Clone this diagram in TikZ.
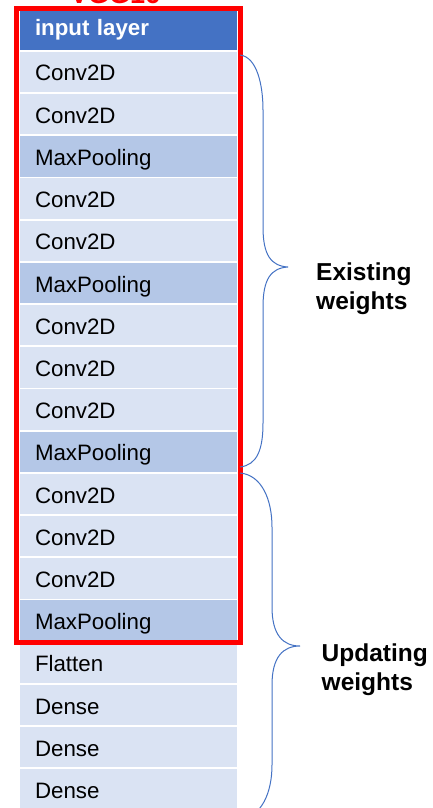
\documentclass[tikz,border=0pt]{standalone}
\usepackage{fontspec}
\setmainfont{Liberation Sans}
\definecolor{cellL}{HTML}{DAE3F3}
\definecolor{cellD}{HTML}{B4C7E7}
\definecolor{inBlue}{HTML}{4472C4}
\begin{document}
\begin{tikzpicture}[x=1pt,y=-1pt,
  cell/.style={rectangle, fill=cellL, draw=none, minimum width=217pt, minimum height=40.4pt,
    inner xsep=15pt, inner ysep=0pt, text width=187pt, align=left,
    font=\fontsize{22.3}{25}\selectfont, text height=18pt, text depth=0pt},
  pool/.style={cell, fill=cellD},
  inlayer/.style={cell, fill=inBlue, text=white, font=\fontsize{22.3}{25}\selectfont\bfseries, text height=12pt},
  brace/.style={draw=inBlue, line width=1pt},
  lab/.style={font=\fontsize{24.5}{29}\selectfont\bfseries, align=left, anchor=north west, inner sep=0pt}]
\clip (0,0) rectangle (433,808);
\fill[white] (0,0) rectangle (433,808);
\node[inlayer] (r0) at (128.5,29.8) {input layer};
\foreach \i/\t/\s in {1/Conv2D/cell,2/Conv2D/cell,3/MaxPooling/pool,4/Conv2D/cell,5/Conv2D/cell,
  6/MaxPooling/pool,7/Conv2D/cell,8/Conv2D/cell,9/Conv2D/cell,10/MaxPooling/pool,
  11/Conv2D/cell,12/Conv2D/cell,13/Conv2D/cell,14/MaxPooling/pool,15/Flatten/cell,
  16/Dense/cell,17/Dense/cell,18/Dense/cell}
  \node[\s] (r\i) at (128.5,{29.8+\i*42.2}) {\t};
\draw[red, line width=5pt] (16.5,8.3) rectangle (240.5,642.5);
\node[text=red, font=\fontsize{27}{30}\selectfont\bfseries, anchor=base west, inner sep=0pt] (title) at (70,3.5) {VGG16};
\draw[brace] (240,55) .. controls (257,57) and (263,85) .. (263,110) -- (263,227)
  .. controls (263,255) and (271,266) .. (288,267)
  .. controls (271,268) and (263,279) .. (263,307) -- (263,423)
  .. controls (263,450) and (257,465) .. (240,467);
\draw[brace] (240,473) .. controls (262,475) and (272,500) .. (272,527) -- (272,607)
  .. controls (272,635) and (283,646) .. (300,646)
  .. controls (283,646) and (272,657) .. (272,685) -- (272,765)
  .. controls (272,792) and (262,817) .. (240,819);
\node[lab] (exist) at (316,263) {Existing\\weights};
\node[lab] (upd) at (321.5,644) {Updating\\weights};
\end{tikzpicture}
\end{document}
